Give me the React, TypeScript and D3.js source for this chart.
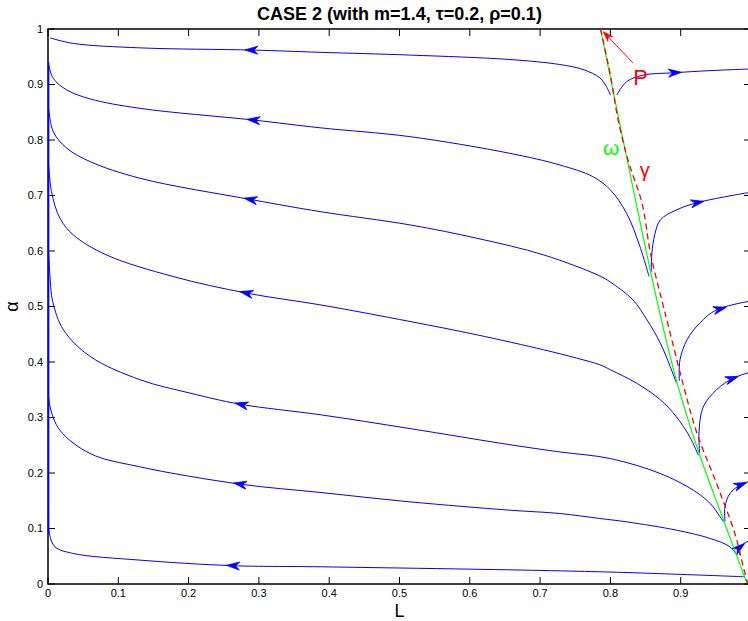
import React from 'react'
import * as d3 from 'd3'

// axis ticks
const xTicks = [0, 0.1, 0.2, 0.3, 0.4, 0.5, 0.6, 0.7, 0.8, 0.9, 1]
const yTicks = [0, 0.1, 0.2, 0.3, 0.4, 0.5, 0.6, 0.7, 0.8, 0.9, 1]
// the L = 1 label falls outside the picture in the original
const xLabels = [0, 0.1, 0.2, 0.3, 0.4, 0.5, 0.6, 0.7, 0.8, 0.9]

// trajectories running towards L = 0, [L, alpha]
const left1 = [[0.003, 0.984], [0.036, 0.974], [0.131, 0.966], [0.292, 0.962], [0.387, 0.958], [0.515, 0.953], [0.657, 0.945], [0.728, 0.936], [0.761, 0.927], [0.785, 0.912], [0.794, 0.897], [0.800, 0.881]]
const left2 = [[0, 0.941], [0.0075, 0.911], [0.027, 0.890], [0.060, 0.874], [0.131, 0.857], [0.292, 0.836], [0.387, 0.822], [0.515, 0.806], [0.657, 0.776], [0.728, 0.755], [0.775, 0.734], [0.800, 0.710], [0.823, 0.668], [0.842, 0.608], [0.855, 0.554]]
const left3 = [[0, 0.869], [0.0075, 0.815], [0.027, 0.785], [0.060, 0.761], [0.131, 0.731], [0.292, 0.692], [0.387, 0.671], [0.515, 0.647], [0.610, 0.623], [0.705, 0.593], [0.785, 0.555], [0.800, 0.544], [0.832, 0.512], [0.852, 0.476], [0.871, 0.434], [0.885, 0.392], [0.894, 0.362]]
const left4 = [[0, 0.773], [0.005, 0.707], [0.017, 0.659], [0.036, 0.629], [0.083, 0.593], [0.178, 0.554], [0.283, 0.524], [0.387, 0.503], [0.515, 0.473], [0.610, 0.449], [0.705, 0.422], [0.752, 0.407], [0.785, 0.395], [0.800, 0.386], [0.837, 0.362], [0.871, 0.332], [0.894, 0.301], [0.913, 0.265], [0.925, 0.232]]
const left5 = [[0, 0.62], [0.003, 0.551], [0.0067, 0.509], [0.022, 0.458], [0.060, 0.410], [0.131, 0.368], [0.202, 0.344], [0.273, 0.324], [0.387, 0.305], [0.515, 0.280], [0.657, 0.251], [0.728, 0.238], [0.800, 0.226], [0.871, 0.199], [0.918, 0.169], [0.942, 0.145], [0.956, 0.121], [0.961, 0.112]]
const left6 = [[0, 0.36], [0.003, 0.319], [0.017, 0.277], [0.060, 0.235], [0.131, 0.211], [0.273, 0.180], [0.387, 0.165], [0.515, 0.148], [0.657, 0.133], [0.728, 0.127], [0.785, 0.118], [0.823, 0.112], [0.894, 0.097], [0.942, 0.082], [0.970, 0.067], [0.980, 0.052]]
const left7 = [[0, 0.15], [0.002, 0.091], [0.010, 0.067], [0.036, 0.055], [0.131, 0.043], [0.263, 0.033], [0.387, 0.031], [0.785, 0.022], [0.991, 0.013]]

// trajectories leaving towards L = 1
const right1 = [[0.809, 0.881], [0.823, 0.905], [0.847, 0.917], [0.889, 0.921], [0.942, 0.925], [1.0, 0.928]]
const right2 = [[0.858, 0.562], [0.859, 0.596], [0.863, 0.629], [0.871, 0.656], [0.894, 0.674], [0.923, 0.687], [1.0, 0.706]]
const right3 = [[0.898, 0.366], [0.899, 0.404], [0.909, 0.440], [0.927, 0.470], [0.951, 0.494], [1.0, 0.510]]
const right4 = [[0.927, 0.236], [0.926, 0.272], [0.932, 0.319], [0.951, 0.350], [0.975, 0.371], [1.0, 0.382]]
const right5 = [[0.963, 0.113], [0.963, 0.139], [0.970, 0.163], [0.984, 0.178], [1.0, 0.186]]
const right6 = [[0.984, 0.052], [0.985, 0.067], [0.994, 0.076], [1.0, 0.079]]

// blue trace sliding along L = 0
const axisTrace = [[0.001, 0.94], [0.001, 0.09]]

// omega (solid green) and gamma (dashed red) curves
const omega = [[0.786, 1.0], [0.866, 0.512], [0.895, 0.362], [0.926, 0.236], [0.961, 0.115], [0.994, 0.002]]
const gamma = [[0.786, 1.0], [0.800, 0.917], [0.811, 0.836], [0.825, 0.764], [0.845, 0.686], [0.857, 0.596], [0.873, 0.512], [0.885, 0.452], [0.903, 0.362], [0.923, 0.272], [0.951, 0.181], [0.977, 0.091], [0.989, 0.031], [0.995, 0.002]]

// arrow tips (L position) on each trajectory
const leftArrowL = [0.280, 0.283, 0.279, 0.273, 0.266, 0.264, 0.254]
const rightArrowL = [0.901, 0.933, 0.965, 0.982, 0.994, 0.991]

// P pointer, from -> to
const pArrow = [[0.832, 0.939], [0.790, 0.995]]

const W = 748, H = 621
const margin = { top: 29, left: 48 }
const width = 703, height = 555
const font = '"Liberation Sans", Arial, Helvetica, sans-serif'

const x = d3.scaleLinear().domain([0, 1]).range([margin.left, margin.left + width])
const y = d3.scaleLinear().domain([0, 1]).range([margin.top + height, margin.top])

const line = d3.line<number[]>()
  .x(d => x(d[0]))
  .y(d => y(d[1]))
  .curve(d3.curveCatmullRom.alpha(0.5))

function alphaAt(pts: number[][], L: number) {
  for (let i = pts.length - 2; i >= 0; i--) {
    const [l0, a0] = pts[i], [l1, a1] = pts[i + 1]
    if (l0 !== l1 && (L - l0) * (L - l1) <= 0) return a0 + (a1 - a0) * (L - l0) / (l1 - l0)
  }
  return pts[pts.length - 1][1]
}

// tip position + heading (deg) of an arrow travelling in direction dir along L
function arrowAt(pts: number[][], L: number, dir: number) {
  const back = L - dir * 0.006
  const tx = x(L), ty = y(alphaAt(pts, L))
  const bx = x(back), by = y(alphaAt(pts, back))
  const ang = Math.atan2(ty - by, tx - bx) * 180 / Math.PI
  return { tx, ty, ang }
}

const headPath = 'M0,0 L-13,-4 L-9,0 L-13,4 Z'

export default function App() {
  const lefts = [left1, left2, left3, left4, left5, left6, left7]
  const rights = [right1, right2, right3, right4, right5, right6]
  const px0 = x(pArrow[0][0]), py0 = y(pArrow[0][1])
  const px1 = x(pArrow[1][0]), py1 = y(pArrow[1][1])
  const pAng = Math.atan2(py1 - py0, px1 - px0) * 180 / Math.PI

  return (
    <svg width={W} height={H} style={{ position: 'absolute', left: 0, top: 0, background: '#fff' }}
      fontFamily={font}>
      <defs>
        <clipPath id="plot">
          <rect x={margin.left} y={margin.top} width={width} height={height} />
        </clipPath>
      </defs>
      <rect width={W} height={H} fill="#fff" />

      {/* title */}
      <text x={x(0.5)} y={20} textAnchor="middle" fontSize={18} fontWeight="bold">
        CASE 2 (with m=1.4, τ=0.2, ρ=0.1)
      </text>

      {/* axes box and ticks */}
      <g stroke="#000">
        <rect x={margin.left} y={margin.top} width={width} height={height} fill="none" strokeWidth={1.5} />
        {xTicks.map(t => (
          <g key={'xt' + t} strokeWidth={1}>
            <line x1={x(t)} x2={x(t)} y1={y(0)} y2={y(0) - 7} />
            <line x1={x(t)} x2={x(t)} y1={y(1)} y2={y(1) + 7} />
          </g>
        ))}
        {yTicks.map(t => (
          <g key={'yt' + t} strokeWidth={1}>
            <line x1={x(0)} x2={x(0) + 7} y1={y(t)} y2={y(t)} />
            <line x1={x(1)} x2={x(1) - 7} y1={y(t)} y2={y(t)} />
          </g>
        ))}
      </g>
      <g fontSize={11} fill="#000">
        {xLabels.map(t => (
          <text key={'xl' + t} x={x(t)} y={y(0) + 13} textAnchor="middle">{String(t)}</text>
        ))}
        {yTicks.map(t => (
          <text key={'yl' + t} x={x(0) - 5} y={y(t) + 3.5} textAnchor="end">{String(t)}</text>
        ))}
      </g>
      <text x={x(0.5)} y={617} textAnchor="middle" fontSize={18}>L</text>
      <text transform={`translate(18,${y(0.5)}) rotate(-90)`} textAnchor="middle" fontSize={18}>α</text>

      <g clipPath="url(#plot)">
        {/* trajectories */}
        <g fill="none" stroke="#0000ff" strokeWidth={1}>
          {lefts.map((c, i) => <path key={'l' + i} d={line(c) || ''} />)}
          {rights.map((c, i) => <path key={'r' + i} d={line(c) || ''} />)}
          <path d={line(axisTrace) || ''} strokeWidth={1.3} />
        </g>
        <g fill="#0000ff" stroke="#0000ff" strokeWidth={0.8} strokeLinejoin="miter">
          {lefts.map((c, i) => {
            const a = arrowAt(c, leftArrowL[i], -1)
            return <path key={'la' + i} d={headPath} transform={`translate(${a.tx},${a.ty}) rotate(${a.ang})`} />
          })}
          {rights.map((c, i) => {
            const a = arrowAt(c, rightArrowL[i], 1)
            return <path key={'ra' + i} d={headPath} transform={`translate(${a.tx},${a.ty}) rotate(${a.ang})`} />
          })}
        </g>

        {/* omega and gamma */}
        <path d={line(omega) || ''} fill="none" stroke="#00ff00" strokeWidth={1.2} />
        <path d={line(gamma) || ''} fill="none" stroke="#ff0000" strokeWidth={1.3} strokeDasharray="6,4" />

        {/* P pointer */}
        <line x1={px0} y1={py0} x2={px1} y2={py1} stroke="#ff0000" strokeWidth={1} />
        <path d="M0,0 L-10,-3.5 L-7,0 L-10,3.5 Z" fill="#ff0000" stroke="#ff0000" strokeWidth={0.6}
          transform={`translate(${px1},${py1}) rotate(${pAng})`} />
      </g>

      <text x={x(0.843)} y={y(0.9)} textAnchor="middle" fontSize={22} fill="#ff0000">P</text>
      <text x={x(0.801)} y={y(0.773)} textAnchor="middle" fontSize={21} fill="#00ff00">ω</text>
      <text x={x(0.849)} y={y(0.734)} textAnchor="middle" fontSize={20} fill="#ff0000">γ</text>
    </svg>
  )
}
